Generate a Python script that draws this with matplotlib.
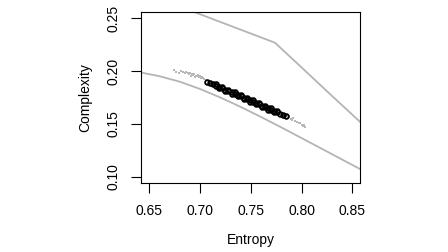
import numpy as np
import matplotlib
matplotlib.use('Agg')
import matplotlib.pyplot as plt

plt.rcParams['font.family'] = ['Liberation Sans', 'DejaVu Sans']

# lower bound curve (minimum complexity)
low_h = [0.630, 0.641, 0.660, 0.680, 0.700, 0.720, 0.740, 0.760, 0.780, 0.800, 0.830, 0.860, 0.870]
low_c = [0.2005, 0.1988, 0.1952, 0.1900, 0.1831, 0.1750, 0.1661, 0.1566, 0.1467, 0.1366, 0.1213, 0.1060, 0.1009]

# upper bound curve (maximum complexity)
up_h = [0.660, 0.6934, 0.7738, 0.800, 0.830, 0.8576, 0.870]
up_c = [0.2685, 0.2563, 0.2269, 0.2035, 0.1765, 0.1520, 0.1410]

# gray scatter points
gray_h = [0.674, 0.676, 0.679, 0.681, 0.683, 0.685, 0.686, 0.688, 0.689, 0.690,
          0.692, 0.693, 0.694, 0.696, 0.697, 0.698, 0.699, 0.700, 0.701, 0.702,
          0.703, 0.704, 0.706, 0.708, 0.695, 0.691,
          0.782, 0.784, 0.786, 0.787, 0.788, 0.790, 0.791, 0.792, 0.794, 0.796,
          0.797, 0.798, 0.800, 0.801, 0.802, 0.803]
gray_c = [0.2012, 0.1995, 0.1985, 0.1998, 0.1990, 0.1978, 0.1992, 0.1982, 0.1970, 0.1985,
          0.1975, 0.1962, 0.1968, 0.1958, 0.1950, 0.1962, 0.1944, 0.1952, 0.1938, 0.1945,
          0.1932, 0.1925, 0.1918, 0.1908, 0.1948, 0.1958,
          0.1598, 0.1585, 0.1572, 0.1558, 0.1566, 0.1550, 0.1540, 0.1556, 0.1528, 0.1520,
          0.1505, 0.1512, 0.1490, 0.1478, 0.1486, 0.1470]

# black scatter points (dense cloud)
black_h = [0.707, 0.710, 0.713, 0.716, 0.719, 0.722, 0.725, 0.728, 0.731, 0.734,
           0.737, 0.740, 0.743, 0.746, 0.749, 0.752, 0.755, 0.758, 0.761, 0.764,
           0.767, 0.770, 0.773, 0.776, 0.779, 0.782, 0.785,
           0.716, 0.722, 0.728, 0.734, 0.740, 0.746, 0.752, 0.758, 0.764, 0.770, 0.776,
           0.719, 0.725, 0.731, 0.737, 0.743, 0.749, 0.755, 0.761, 0.767, 0.773]
black_c = [0.1900, 0.1887, 0.1874, 0.1862, 0.1849, 0.1837, 0.1824, 0.1811, 0.1799, 0.1786,
           0.1774, 0.1761, 0.1748, 0.1736, 0.1723, 0.1711, 0.1698, 0.1685, 0.1673, 0.1660,
           0.1648, 0.1635, 0.1622, 0.1610, 0.1597, 0.1585, 0.1572,
           0.1875, 0.1850, 0.1824, 0.1799, 0.1774, 0.1749, 0.1724, 0.1698, 0.1673, 0.1648, 0.1623,
           0.1836, 0.1811, 0.1786, 0.1761, 0.1735, 0.1710, 0.1685, 0.1660, 0.1635, 0.1609]

fig = plt.figure(figsize=(4.48, 2.52), dpi=100)
ax = fig.add_axes([0.3147, 0.2738, 0.4889, 0.6798])

ax.plot(low_h, low_c, color='#b4b4b4', lw=1.3)
ax.plot(up_h, up_c, color='#b4b4b4', lw=1.3)
ax.scatter(gray_h, gray_c, s=1.5, color='#b8b8b8', marker='s', linewidths=0)
ax.plot(black_h, black_c, 'o', ms=3.4, mfc='none', mec='black', mew=1.3)

ax.set_xlim(0.6418, 0.8576)
ax.set_ylim(0.094, 0.2563)
ax.set_xticks([0.65, 0.70, 0.75, 0.80, 0.85])
ax.set_xticklabels(['0.65', '0.70', '0.75', '0.80', '0.85'])
ax.set_yticks([0.10, 0.15, 0.20, 0.25])
ax.set_yticklabels(['0.10', '0.15', '0.20', '0.25'], rotation=90, va='center')
ax.tick_params(length=7, width=0.8, labelsize=10, pad=8)
for s in ax.spines.values():
    s.set_linewidth(0.8)

ax.set_xlabel('Entropy', fontsize=10, labelpad=11)
ax.set_ylabel('Complexity', fontsize=10, labelpad=10)

fig.savefig('out.png', dpi=100)
